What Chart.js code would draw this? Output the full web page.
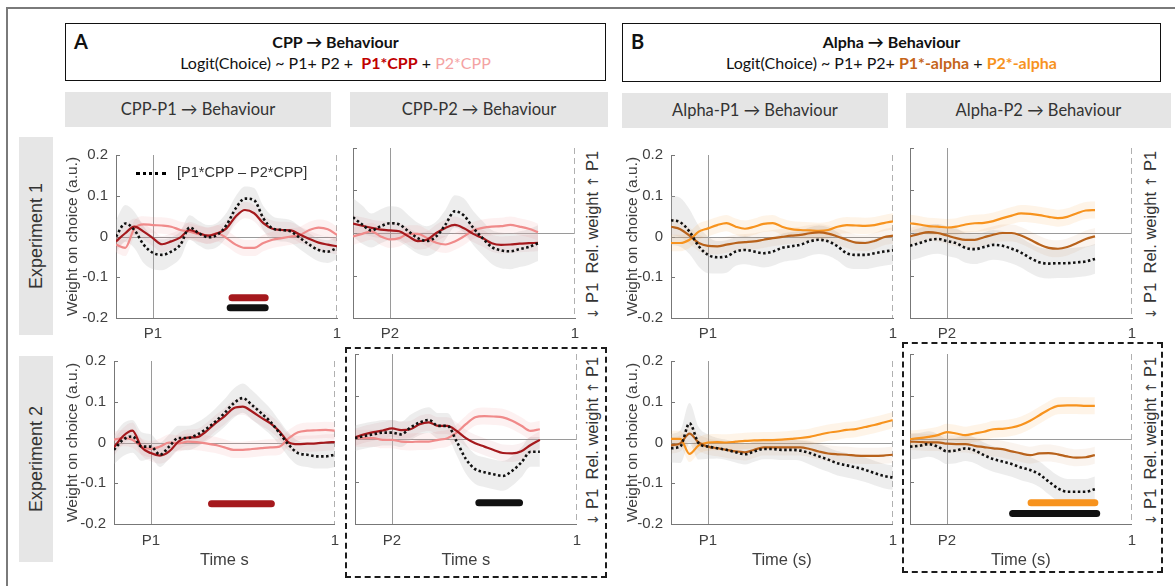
<!DOCTYPE html>
<html lang="en">
<head>
<meta charset="UTF-8" />
<title>CPP / Alpha weights on choice</title>
<style>
  body {
    margin: 0;
    width: 1175px;
    height: 586px;
    position: relative;
    overflow: hidden;
    background: #fff;
    font-family: "Liberation Sans", Arial, sans-serif;
    color: #333;
  }
  .abs { position: absolute; }
  .frame-top { left: 6px; top: 7px; width: 1169px; height: 2px; background: #7a7a7a; }
  .frame-left { left: 6px; top: 7px; width: 2px; height: 579px; background: #7a7a7a; }
  .model {
    border: 1.5px solid #111;
    box-sizing: border-box;
    font-family: Lato, "Open Sans", sans-serif;
    color: #111;
  }
  .model .tag { position: absolute; left: 8px; top: 5px; font-size: 20px; font-weight: bold; }
  .model .l1 {
    position: absolute; left: 0; right: 0; top: 8px;
    text-align: center; font-size: 16px; font-weight: bold; line-height: 20px;
  }
  .model .l2 {
    position: absolute; left: 0; right: 0; top: 29px;
    text-align: center; font-size: 16px; line-height: 20px;
  }
  .sub {
    background: #e5e5e5;
    font-family: Lato, "Open Sans", sans-serif;
    font-size: 16.5px;
    text-align: center;
    height: 35px;
    line-height: 35px;
    color: #333;
  }
  .exp { background: #e6e6e6; left: 19px; width: 34px; }
  .rot { white-space: nowrap; transform: translate(-50%, -50%) rotate(-90deg); }
  .exp-text { font-size: 18px; color: #333; }
  .rel-text { font-size: 16.5px; color: #333; }
  .arr { font-family: "DejaVu Sans", sans-serif; font-size: 14px; color: #444; }
  .dash { border: 2px dashed #1c1c1c; box-sizing: border-box; }
  .legend-line { left: 136px; top: 172px; width: 30px; border-top: 3px dotted #000; }
  .legend-text { left: 177px; top: 164px; font-size: 14.5px; color: #333; }
  canvas { position: absolute; }
</style>
</head>
<body>
  <div class="abs frame-top"></div>
  <div class="abs frame-left"></div>

  <div class="abs model" style="left:65px; top:23px; width:541px; height:58px;">
    <div class="tag">A</div>
    <div class="l1">CPP &rarr; Behaviour</div>
    <div class="l2">Logit(Choice) ~ P1+ P2 +&nbsp; <b style="color:#c00000">P1*CPP</b> + <span style="color:#f4a3a3">P2*CPP</span></div>
  </div>
  <div class="abs model" style="left:622px; top:23px; width:539px; height:59px;">
    <div class="tag">B</div>
    <div class="l1">Alpha &rarr; Behaviour</div>
    <div class="l2">Logit(Choice) ~ P1+ P2+ <b style="color:#c5651a">P1*-alpha</b> + <b style="color:#f7931e">P2*-alpha</b></div>
  </div>

  <div class="abs sub" style="left:65px; top:92px; width:266px;">CPP-P1 &rarr; Behaviour</div>
  <div class="abs sub" style="left:350px; top:92px; width:258px;">CPP-P2 &rarr; Behaviour</div>
  <div class="abs sub" style="left:622px; top:93px; width:266px;">Alpha-P1 &rarr; Behaviour</div>
  <div class="abs sub" style="left:906px; top:93px; width:265px;">Alpha-P2 &rarr; Behaviour</div>

  <div class="abs exp" style="top:137px; height:198px;"></div>
  <div class="abs exp" style="top:356px; height:206px;"></div>
  <div class="abs rot exp-text" style="left:36px; top:236px;">Experiment 1</div>
  <div class="abs rot exp-text" style="left:36px; top:459px;">Experiment 2</div>

  <div class="abs rot rel-text" style="left:592px; top:235px;"><span class="arr">&darr;</span> P1&nbsp; Rel. weight <span class="arr">&uarr;</span> P1</div>
  <div class="abs rot rel-text" style="left:1150px; top:235px;"><span class="arr">&darr;</span> P1&nbsp; Rel. weight <span class="arr">&uarr;</span> P1</div>
  <div class="abs rot rel-text" style="left:592px; top:441px;"><span class="arr">&darr;</span> P1&nbsp; Rel. weight <span class="arr">&uarr;</span> P1</div>
  <div class="abs rot rel-text" style="left:1150px; top:441px;"><span class="arr">&darr;</span> P1&nbsp; Rel. weight <span class="arr">&uarr;</span> P1</div>

  <div class="abs dash" style="left:345px; top:347px; width:262px; height:231px;"></div>
  <div class="abs dash" style="left:902px; top:342px; width:261px; height:231px;"></div>

  <div id="plots"></div>

  <div class="abs legend-line"></div>
  <div class="abs legend-text">[P1*CPP &ndash; P2*CPP]</div>

  <script src="https://cdn.jsdelivr.net/npm/chart.js"></script>
  <script>
    // time axis (s), P1/P2 onset at 0
    const xLong = [-0.2, -0.15, -0.1, -0.05, 0, 0.05, 0.1, 0.15, 0.2, 0.25, 0.3, 0.35, 0.4,
      0.45, 0.5, 0.55, 0.6, 0.65, 0.7, 0.75, 0.8, 0.85, 0.9, 0.95, 1];
    const xShort = xLong.slice(0, 21); // P2 panels stop at 0.8 s
    const yTicks = [-0.2, -0.1, 0, 0.1, 0.2];
    const xTicks = [0, 1];
    const namesP1 = ["P1", "1"];
    const namesP2 = ["P2", "1"];

    // Experiment 1, CPP-P1
    const e1CppP1_p1 = [-0.012, 0.008, 0.024, 0.012, -0.004, -0.019, -0.012, -0.002, 0.016, 0.008, 0.002, 0.008, 0.020,
      0.049, 0.065, 0.057, 0.033, 0.019, 0.016, 0.015, 0.004, -0.006, -0.015, -0.020, -0.024];
    const e1CppP1_p2 = [-0.020, -0.028, 0.020, 0.030, 0.028, 0.027, 0.024, 0.016, 0.012, 0.006, 0.002, 0.008, -0.004,
      -0.020, -0.028, -0.028, -0.016, -0.008, -0.004, 0.000, 0.004, 0.016, 0.022, 0.018, 0.004];
    const e1CppP1_diff = [0.000, 0.032, 0.016, -0.020, -0.040, -0.045, -0.037, -0.020, 0.022, 0.008, -0.002, 0.004, 0.028,
      0.069, 0.093, 0.089, 0.045, 0.020, 0.016, 0.012, -0.004, -0.020, -0.033, -0.037, -0.028];
    const e1CppP1_sem = [0.040, 0.045, 0.045, 0.045, 0.040, 0.038, 0.035, 0.033, 0.030, 0.030, 0.030, 0.030, 0.030,
      0.030, 0.030, 0.030, 0.030, 0.030, 0.028, 0.028, 0.028, 0.028, 0.028, 0.028, 0.028];
    const e1CppP1_sig = [
      { kind: "p1", y: -0.15, from: 0.43, to: 0.61 },
      { kind: "diff", y: -0.175, from: 0.42, to: 0.61 },
    ];

    // Experiment 1, CPP-P2
    const e1CppP2_p1 = [0.022, 0.017, 0.012, 0.008, 0.006, 0.004, -0.008, -0.019, -0.016, 0.000, 0.012, 0.019, 0.011,
      -0.002, -0.012, -0.024, -0.028, -0.027, -0.025, -0.024, -0.023];
    const e1CppP2_p2 = [-0.008, -0.002, 0.004, -0.008, -0.015, -0.012, -0.002, -0.002, -0.012, -0.023, -0.027, -0.020,
      -0.008, 0.006, 0.012, 0.015, 0.016, 0.019, 0.015, 0.010, 0.002];
    const e1CppP2_diff = [0.037, 0.020, 0.006, 0.016, 0.023, 0.020, 0.004, -0.012, -0.019, -0.008, 0.020, 0.051, 0.041,
      0.012, -0.012, -0.033, -0.041, -0.043, -0.038, -0.033, -0.024];
    const e1CppP2_sem = [0.045, 0.045, 0.040, 0.040, 0.040, 0.040, 0.038, 0.036, 0.035, 0.035, 0.035, 0.038, 0.040,
      0.040, 0.040, 0.040, 0.042, 0.042, 0.042, 0.042, 0.042];
    const e1CppP2_sig = [];

    // Experiment 1, Alpha-P1
    const e1AlphaP1_p1 = [0.024, 0.018, 0.002, -0.016, -0.023, -0.024, -0.020, -0.016, -0.014, -0.012, -0.008, -0.004,
      -0.001, 0.002, 0.004, 0.008, 0.010, 0.007, 0.000, -0.008, -0.015, -0.016, -0.011, -0.002, 0.002];
    const e1AlphaP1_p2 = [-0.016, -0.016, -0.008, 0.012, 0.020, 0.028, 0.033, 0.024, 0.019, 0.024, 0.031, 0.033, 0.024,
      0.018, 0.016, 0.015, 0.014, 0.016, 0.024, 0.028, 0.027, 0.026, 0.028, 0.033, 0.037];
    const e1AlphaP1_diff = [0.040, 0.035, 0.012, -0.024, -0.045, -0.051, -0.049, -0.037, -0.033, -0.037, -0.041, -0.037,
      -0.028, -0.024, -0.020, -0.012, -0.008, -0.012, -0.024, -0.041, -0.045, -0.045, -0.041, -0.037, -0.034];
    const e1AlphaP1_sem = [0.060, 0.060, 0.055, 0.050, 0.045, 0.040, 0.040, 0.035, 0.035, 0.035, 0.035, 0.035, 0.035,
      0.035, 0.035, 0.035, 0.035, 0.035, 0.035, 0.035, 0.035, 0.035, 0.035, 0.035, 0.035];
    const e1AlphaP1_sig = [];

    // Experiment 1, Alpha-P2
    const e1AlphaP2_p1 = [-0.008, -0.002, 0.002, 0.000, -0.006, -0.012, -0.016, -0.016, -0.010, -0.004, 0.000, 0.000,
      -0.006, -0.016, -0.027, -0.035, -0.037, -0.033, -0.024, -0.014, -0.008];
    const e1AlphaP2_p2 = [0.023, 0.020, 0.016, 0.015, 0.013, 0.015, 0.020, 0.023, 0.024, 0.028, 0.035, 0.041, 0.046,
      0.045, 0.042, 0.038, 0.035, 0.038, 0.046, 0.053, 0.054];
    const e1AlphaP2_diff = [-0.030, -0.024, -0.017, -0.014, -0.019, -0.024, -0.035, -0.038, -0.033, -0.028, -0.030,
      -0.037, -0.046, -0.059, -0.069, -0.072, -0.071, -0.071, -0.069, -0.067, -0.061];
    const e1AlphaP2_sem = [0.035, 0.035, 0.035, 0.035, 0.035, 0.035, 0.035, 0.035, 0.035, 0.035, 0.035, 0.035, 0.035,
      0.035, 0.035, 0.035, 0.035, 0.035, 0.035, 0.035, 0.035];
    const e1AlphaP2_sig = [];

    // Experiment 2, CPP-P1
    const e2CppP1_p1 = [-0.012, 0.016, 0.029, -0.012, -0.026, -0.032, -0.022, 0.002, 0.012, 0.013, 0.027, 0.047, 0.064,
      0.084, 0.088, 0.076, 0.061, 0.047, 0.027, 0.000, -0.004, -0.003, -0.002, 0.000, 0.001];
    const e2CppP1_p2 = [0.007, 0.011, 0.007, -0.010, -0.016, -0.010, 0.000, -0.002, 0.002, 0.001, -0.002, -0.006, -0.012,
      -0.018, -0.018, -0.016, -0.014, -0.012, -0.010, 0.011, 0.025, 0.029, 0.030, 0.031, 0.029];
    const e2CppP1_diff = [-0.018, 0.007, 0.015, -0.010, -0.010, -0.030, -0.010, 0.011, 0.011, 0.019, 0.033, 0.051, 0.072,
      0.096, 0.109, 0.092, 0.072, 0.051, 0.023, -0.006, -0.026, -0.030, -0.034, -0.034, -0.030];
    const e2CppP1_sem = [0.035, 0.040, 0.040, 0.035, 0.030, 0.030, 0.030, 0.030, 0.030, 0.030, 0.030, 0.032, 0.034,
      0.036, 0.036, 0.036, 0.034, 0.032, 0.030, 0.030, 0.030, 0.030, 0.030, 0.030, 0.030];
    const e2CppP1_sig = [{ kind: "p1", y: -0.15, from: 0.33, to: 0.655 }];

    // Experiment 2, CPP-P2
    const e2CppP2_p1 = [0.004, 0.011, 0.016, 0.020, 0.025, 0.021, 0.023, 0.035, 0.039, 0.031, 0.031, 0.019, 0.002,
      -0.010, -0.018, -0.026, -0.033, -0.034, -0.029, -0.014, -0.002];
    const e2CppP2_p2 = [0.002, 0.002, 0.002, -0.002, -0.002, -0.006, -0.007, -0.006, -0.006, -0.002, 0.002, 0.015, 0.035,
      0.051, 0.054, 0.053, 0.051, 0.043, 0.031, 0.019, 0.023];
    const e2CppP2_diff = [0.002, 0.007, 0.011, 0.015, 0.015, 0.011, 0.027, 0.039, 0.045, 0.031, 0.031, -0.006, -0.047,
      -0.071, -0.078, -0.083, -0.087, -0.075, -0.055, -0.030, -0.030];
    const e2CppP2_sem = [0.030, 0.030, 0.030, 0.030, 0.030, 0.030, 0.030, 0.030, 0.030, 0.030, 0.030, 0.032, 0.035,
      0.035, 0.035, 0.035, 0.035, 0.035, 0.035, 0.035, 0.035];
    const e2CppP2_sig = [{ kind: "diff", y: -0.15, from: 0.47, to: 0.69 }];

    // Experiment 2, Alpha-P1
    const e2AlphaP1_p1 = [-0.007, -0.002, 0.022, 0.000, -0.010, -0.014, -0.018, -0.022, -0.024, -0.018, -0.012, -0.012,
      -0.012, -0.012, -0.012, -0.016, -0.022, -0.027, -0.029, -0.030, -0.032, -0.033, -0.033, -0.032, -0.030];
    const e2AlphaP1_p2 = [0.009, 0.009, -0.028, -0.007, 0.000, 0.001, 0.000, 0.002, 0.004, 0.005, 0.006, 0.006, 0.007,
      0.009, 0.011, 0.014, 0.019, 0.024, 0.027, 0.031, 0.033, 0.038, 0.043, 0.049, 0.055];
    const e2AlphaP1_diff = [-0.014, -0.010, 0.047, -0.002, -0.010, -0.014, -0.018, -0.024, -0.029, -0.022, -0.016, -0.016,
      -0.018, -0.018, -0.020, -0.026, -0.034, -0.042, -0.051, -0.056, -0.061, -0.067, -0.075, -0.082, -0.086];
    const e2AlphaP1_sem = [0.035, 0.040, 0.050, 0.040, 0.030, 0.025, 0.025, 0.025, 0.025, 0.025, 0.025, 0.025, 0.025,
      0.025, 0.025, 0.028, 0.030, 0.030, 0.030, 0.030, 0.030, 0.030, 0.030, 0.030, 0.030];
    const e2AlphaP1_sig = [];

    // Experiment 2, Alpha-P2
    const e2AlphaP2_p1 = [-0.006, -0.007, -0.008, -0.008, -0.011, -0.012, -0.012, -0.016, -0.019, -0.022, -0.024, -0.029,
      -0.034, -0.038, -0.034, -0.033, -0.036, -0.041, -0.044, -0.043, -0.038];
    const e2AlphaP2_p2 = [0.000, 0.002, 0.005, 0.009, 0.016, 0.013, 0.009, 0.013, 0.017, 0.023, 0.024, 0.027, 0.033,
      0.043, 0.056, 0.069, 0.078, 0.079, 0.079, 0.078, 0.078];
    const e2AlphaP2_diff = [-0.018, -0.016, -0.012, -0.018, -0.029, -0.027, -0.022, -0.027, -0.038, -0.047, -0.053,
      -0.059, -0.067, -0.073, -0.083, -0.100, -0.116, -0.124, -0.124, -0.124, -0.118];
    const e2AlphaP2_sem = [0.030, 0.030, 0.030, 0.030, 0.030, 0.030, 0.030, 0.030, 0.030, 0.030, 0.030, 0.030, 0.030,
      0.030, 0.030, 0.030, 0.030, 0.030, 0.030, 0.030, 0.030];
    const e2AlphaP2_sig = [
      { kind: "p2", y: -0.15, from: 0.455, to: 0.80 },
      { kind: "diff", y: -0.175, from: 0.355, to: 0.81 },
    ];

    const cppColors = { p1: "#a5191d", p2: "#f08a8a", diff: "#111111",
      p1Band: "rgba(163,24,29,0.06)", p2Band: "rgba(240,140,140,0.12)" };
    const alphaColors = { p1: "#b8621b", p2: "#f7931e", diff: "#111111",
      p1Band: "rgba(184,98,27,0.07)", p2Band: "rgba(247,147,30,0.10)" };
    const LINE_SEM = 0.02; // half-width of the faint band around coloured lines

    // plot-area boxes in page pixels
    const panels = [
      { xs: xLong, p1: e1CppP1_p1, p2: e1CppP1_p2, diff: e1CppP1_diff, sem: e1CppP1_sem, sig: e1CppP1_sig,
        colors: cppColors, names: namesP1, left: 116, top: 153, w: 221, h: 165, yW: 56, xH: 28, yLabels: true, xTitle: "" },
      { xs: xShort, p1: e1CppP2_p1, p2: e1CppP2_p2, diff: e1CppP2_diff, sem: e1CppP2_sem, sig: e1CppP2_sig,
        colors: cppColors, names: namesP2, left: 353, top: 153, w: 222, h: 165, yW: 4, xH: 28, yLabels: false, xTitle: "" },
      { xs: xLong, p1: e1AlphaP1_p1, p2: e1AlphaP1_p2, diff: e1AlphaP1_diff, sem: e1AlphaP1_sem, sig: e1AlphaP1_sig,
        colors: alphaColors, names: namesP1, left: 671, top: 153, w: 222, h: 165, yW: 51, xH: 28, yLabels: true, xTitle: "" },
      { xs: xShort, p1: e1AlphaP2_p1, p2: e1AlphaP2_p2, diff: e1AlphaP2_diff, sem: e1AlphaP2_sem, sig: e1AlphaP2_sig,
        colors: alphaColors, names: namesP2, left: 910, top: 153, w: 222, h: 165, yW: 4, xH: 28, yLabels: false, xTitle: "" },
      { xs: xLong, p1: e2CppP1_p1, p2: e2CppP1_p2, diff: e2CppP1_diff, sem: e2CppP1_sem, sig: e2CppP1_sig,
        colors: cppColors, names: namesP1, left: 114, top: 359, w: 221, h: 165, yW: 54, xH: 50, yLabels: true, xTitle: "Time s" },
      { xs: xShort, p1: e2CppP2_p1, p2: e2CppP2_p2, diff: e2CppP2_diff, sem: e2CppP2_sem, sig: e2CppP2_sig,
        colors: cppColors, names: namesP2, left: 355, top: 359, w: 222, h: 165, yW: 4, xH: 50, yLabels: false, xTitle: "Time s" },
      { xs: xLong, p1: e2AlphaP1_p1, p2: e2AlphaP1_p2, diff: e2AlphaP1_diff, sem: e2AlphaP1_sem, sig: e2AlphaP1_sig,
        colors: alphaColors, names: namesP1, left: 671, top: 359, w: 222, h: 165, yW: 51, xH: 50, yLabels: true, xTitle: "Time (s)" },
      { xs: xShort, p1: e2AlphaP2_p1, p2: e2AlphaP2_p2, diff: e2AlphaP2_diff, sem: e2AlphaP2_sem, sig: e2AlphaP2_sig,
        colors: alphaColors, names: namesP2, left: 910, top: 359, w: 222, h: 165, yW: 4, xH: 50, yLabels: false, xTitle: "Time (s)" },
    ];

    const PAD_TOP = 10;
    const TOP_OFFSET = 15; // chart area starts this far below the canvas top
    const PAD_RIGHT = 12;
    const FONT = "'Liberation Sans', Arial, sans-serif";
    const TEXT = "#404040";

    // reference lines: zero, onset, dashed end of trial, inward y ticks
    const decor = {
      id: "decor",
      beforeDatasetsDraw(chart) {
        const { ctx, chartArea: a, scales: { x, y } } = chart;
        ctx.save();
        ctx.lineWidth = 1;
        ctx.strokeStyle = "#9a9a9a";
        const y0 = Math.round(y.getPixelForValue(0)) + 0.5;
        ctx.beginPath(); ctx.moveTo(a.left, y0); ctx.lineTo(a.right, y0); ctx.stroke();
        const x0 = Math.round(x.getPixelForValue(0)) + 0.5;
        ctx.beginPath(); ctx.moveTo(x0, a.top); ctx.lineTo(x0, a.bottom); ctx.stroke();
        ctx.strokeStyle = "#b0b0b0";
        ctx.setLineDash([6, 4]);
        const x1 = Math.round(x.getPixelForValue(1)) - 0.5;
        ctx.beginPath(); ctx.moveTo(x1, a.top); ctx.lineTo(x1, a.bottom); ctx.stroke();
        ctx.setLineDash([]);
        ctx.strokeStyle = "#777";
        yTicks.forEach((v) => {
          const py = Math.round(y.getPixelForValue(v)) + 0.5;
          ctx.beginPath(); ctx.moveTo(a.left, py); ctx.lineTo(a.left + 4, py); ctx.stroke();
        });
        ctx.restore();
      },
    };

    function points(xs, ys, shift = null, sign = 1) {
      return xs.map((x, i) => ({ x, y: ys[i] + (shift ? sign * (Array.isArray(shift) ? shift[i] : shift) : 0) }));
    }

    function band(xs, mean, sem, color, order) {
      return [
        { data: points(xs, mean, sem, 1), fill: "+1", backgroundColor: color, borderWidth: 0,
          pointRadius: 0, cubicInterpolationMode: "monotone", order },
        { data: points(xs, mean, sem, -1), fill: false, borderWidth: 0,
          pointRadius: 0, cubicInterpolationMode: "monotone", order },
      ];
    }

    function line(xs, ys, color, order, dash) {
      return { data: points(xs, ys), borderColor: color, borderWidth: dash ? 2.6 : 2.2,
        borderDash: dash || [], pointRadius: 0, fill: false, cubicInterpolationMode: "monotone", order };
    }

    const holder = document.getElementById("plots");

    panels.forEach((p) => {
      const canvas = document.createElement("canvas");
      const cw = p.yW + p.w + PAD_RIGHT;
      const ch = TOP_OFFSET + p.h + p.xH;
      canvas.width = cw;
      canvas.height = ch;
      canvas.style.left = (p.left - p.yW) + "px";
      canvas.style.top = (p.top - TOP_OFFSET) + "px";
      canvas.style.width = cw + "px";
      canvas.style.height = ch + "px";
      holder.appendChild(canvas);

      const c = p.colors;
      const datasets = [
        ...band(p.xs, p.diff, p.sem, "rgba(185,185,185,0.26)", 12),
        ...band(p.xs, p.p2, LINE_SEM, c.p2Band, 11),
        ...band(p.xs, p.p1, LINE_SEM, c.p1Band, 10),
        line(p.xs, p.p2, c.p2, 4),
        line(p.xs, p.p1, c.p1, 3),
        line(p.xs, p.diff, c.diff, 2, [2.5, 2.5]),
        ...p.sig.map((s) => ({
          data: [{ x: s.from, y: s.y }, { x: s.to, y: s.y }],
          borderColor: c[s.kind], borderWidth: 7, borderCapStyle: "round",
          pointRadius: 0, fill: false, order: 1,
        })),
      ];

      new Chart(canvas, {
        type: "line",
        data: { datasets },
        options: {
          responsive: false,
          animation: false,
          events: [],
          layout: { padding: { top: PAD_TOP, right: PAD_RIGHT, bottom: 0, left: 0 } },
          plugins: { legend: { display: false }, tooltip: { enabled: false } },
          scales: {
            x: {
              type: "linear",
              min: -0.2,
              max: 1,
              afterBuildTicks: (s) => { s.ticks = xTicks.map((v) => ({ value: v })); },
              afterFit: (s) => { s.height = p.xH; },
              ticks: {
                callback: (v, i) => p.names[i],
                padding: p.xTitle ? 8 : 7,
                maxRotation: 0,
                autoSkip: false,
                color: TEXT,
                font: { family: FONT, size: 15 },
              },
              grid: { display: false, drawTicks: false },
              border: { color: "#777", width: 1 },
              title: {
                display: !!p.xTitle,
                text: p.xTitle,
                color: TEXT,
                font: { family: FONT, size: 16.5 },
                padding: { top: 0, bottom: 4 },
              },
            },
            y: {
              min: -0.2,
              max: 0.2,
              afterBuildTicks: (s) => { s.ticks = yTicks.map((v) => ({ value: v })); },
              afterFit: (s) => { s.width = p.yW; },
              ticks: {
                display: p.yLabels,
                callback: (v) => (v === 0 ? "0" : v.toFixed(1)),
                padding: 8,
                color: TEXT,
                font: { family: FONT, size: 15 },
              },
              grid: { display: false, drawTicks: false },
              border: { color: "#777", width: 1 },
              title: {
                display: p.yLabels,
                text: "Weight on choice (a.u.)",
                color: TEXT,
                font: { family: FONT, size: 15.5 },
                padding: { top: 3, bottom: 4 },
              },
            },
          },
        },
        plugins: [decor],
      });
    });
  </script>
</body>
</html>
